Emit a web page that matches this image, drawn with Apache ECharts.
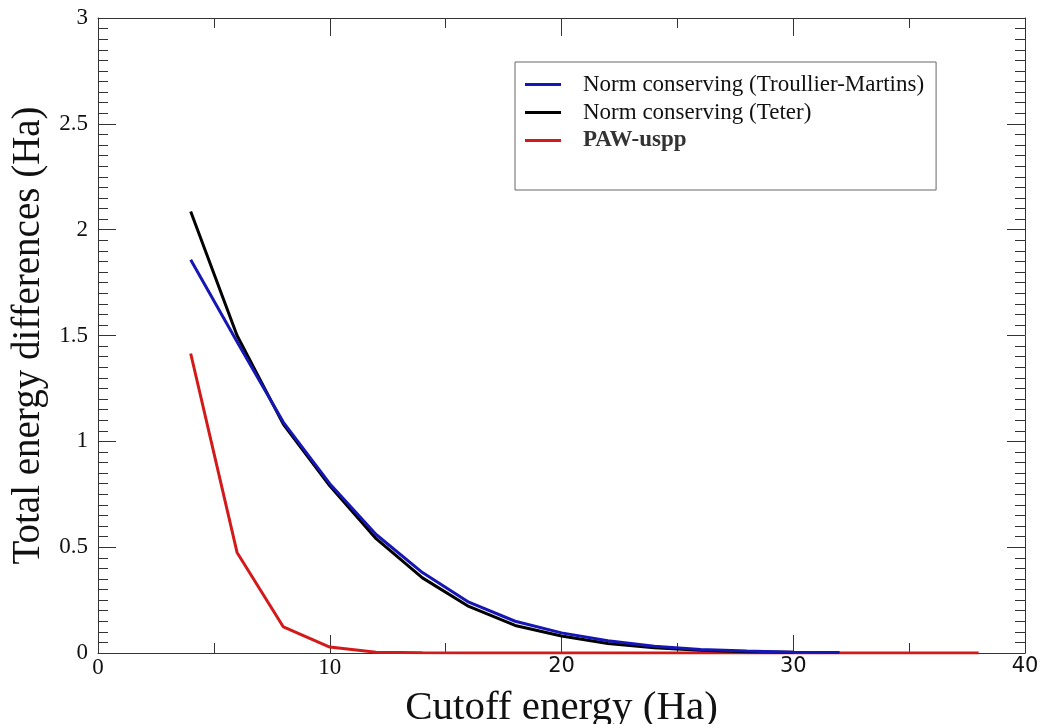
<!DOCTYPE html>
<html>
<head>
<meta charset="utf-8">
<script src="https://cdn.jsdelivr.net/npm/echarts@6/dist/echarts.min.js"></script>
<style>html,body{margin:0;padding:0;background:#fff}#c{width:1041px;height:724px}</style>
</head>
<body>
<div id="c"></div>
<script>
const seriesNames = ['Norm conserving (Troullier-Martins)', 'Norm conserving (Teter)', 'PAW-uspp'];
const tmX = [4, 6, 8, 10, 12, 14, 16, 18, 20, 22, 24, 26, 28, 30, 32];
const tmY = [1.858, 1.47, 1.09, 0.80, 0.56, 0.38, 0.24, 0.15, 0.095, 0.058, 0.032, 0.017, 0.009, 0.004, 0.002];
const teterX = [4, 6, 8, 10, 12, 14, 16, 18, 20, 22, 24, 26, 28, 30];
const teterY = [2.086, 1.50, 1.08, 0.79, 0.54, 0.355, 0.22, 0.13, 0.08, 0.045, 0.025, 0.013, 0.006, 0.003];
const pawX = [4, 6, 8, 10, 12, 14, 16, 18, 20, 22, 24, 26, 28, 30, 32, 34, 36, 38];
const pawY = [1.415, 0.475, 0.123, 0.028, 0.004, 0.001, 0, 0, 0, 0, 0, 0, 0, 0, 0, 0, 0, 0];
const xTicks = [0, 10, 20, 30, 40];
const yTicks = [0, 0.5, 1, 1.5, 2, 2.5, 3];

const serif = '"Liberation Serif", "DejaVu Serif", serif';
const sans = '"DejaVu Sans", sans-serif';
const pair = (xs, ys) => xs.map((x, i) => [x, ys[i]]);
const colors = ['#1616b4', '#000000', '#d21a1a'];

const axisLine = { show: true, onZero: false, lineStyle: { color: '#333', width: 1 } };
const majorTick = { show: true, inside: true, length: 18, lineStyle: { color: '#333', width: 1 } };
const minorX = { show: true, splitNumber: 2, length: 10, lineStyle: { color: '#333', width: 1 } };
const minorY = { show: true, splitNumber: 10, length: 10, lineStyle: { color: '#333', width: 1 } };

const chart = echarts.init(document.getElementById('c'));
chart.setOption({
  backgroundColor: '#fff',
  animation: false,
  grid: { left: 98, right: 16, top: 18, bottom: 71, containLabel: false, outerBoundsMode: 'none' },
  legend: {
    orient: 'vertical',
    left: 515, top: 62,
    padding: [11, 12, 38, 10],
    itemGap: 5,
    itemWidth: 36, itemHeight: 3,
    icon: 'rect',
    borderColor: '#666', borderWidth: 1,
    backgroundColor: '#fff',
    data: seriesNames,
    formatter: n => n === 'PAW-uspp' ? '{b|' + n + '}' : '{n|' + n + '}',
    textStyle: {
      fontFamily: serif, fontSize: 23, color: '#111',
      rich: {
        n: { fontFamily: serif, fontSize: 23, color: '#111', padding: [0, 0, 0, 17] },
        b: { fontFamily: serif, fontSize: 23, color: '#333', fontWeight: 'bold', padding: [0, 0, 0, 17] }
      }
    }
  },
  xAxis: [{
    type: 'value', min: 0, max: 40, interval: 10, position: 'bottom',
    name: 'Cutoff energy (Ha)', nameLocation: 'middle', nameGap: 35,
    nameTextStyle: { fontFamily: serif, fontSize: 41, color: '#111' },
    axisLine: axisLine, axisTick: majorTick, minorTick: minorX,
    splitLine: { show: false },
    axisLabel: {
      margin: 3, fontFamily: serif, fontSize: 23, color: '#111',
      formatter: v => (xTicks.indexOf(v) >= 0 ? (v >= 20 ? '{s|' + v + '}' : String(v)) : ''),
      rich: { s: { fontFamily: sans, fontSize: 21, color: '#111' } }
    }
  }, {
    type: 'value', min: 0, max: 40, interval: 10, position: 'top',
    axisLine: axisLine, axisTick: majorTick, minorTick: minorX,
    splitLine: { show: false }, axisLabel: { show: false }
  }],
  yAxis: [{
    type: 'value', min: 0, max: 3, interval: 0.5, position: 'left',
    name: 'Total energy differences (Ha)', nameLocation: 'middle', nameGap: 50,
    nameTextStyle: { fontFamily: serif, fontSize: 39, color: '#111' },
    axisLine: axisLine, axisTick: majorTick, minorTick: minorY,
    splitLine: { show: false },
    axisLabel: {
      margin: 10, fontFamily: serif, fontSize: 23, color: '#111',
      formatter: v => (yTicks.indexOf(v) >= 0 ? String(v) : '')
    }
  }, {
    type: 'value', min: 0, max: 3, interval: 0.5, position: 'right',
    axisLine: axisLine, axisTick: majorTick, minorTick: minorY,
    splitLine: { show: false }, axisLabel: { show: false }
  }],
  series: [
    { name: seriesNames[0], type: 'line', data: pair(tmX, tmY), showSymbol: false, symbol: 'none',
      lineStyle: { color: colors[0], width: 3 }, itemStyle: { color: colors[0] }, z: 3 },
    { name: seriesNames[1], type: 'line', data: pair(teterX, teterY), showSymbol: false, symbol: 'none',
      lineStyle: { color: colors[1], width: 3 }, itemStyle: { color: colors[1] }, z: 2 },
    { name: seriesNames[2], type: 'line', data: pair(pawX, pawY), showSymbol: false, symbol: 'none',
      lineStyle: { color: colors[2], width: 3 }, itemStyle: { color: colors[2] }, z: 1 }
  ]
});
</script>
</body>
</html>
